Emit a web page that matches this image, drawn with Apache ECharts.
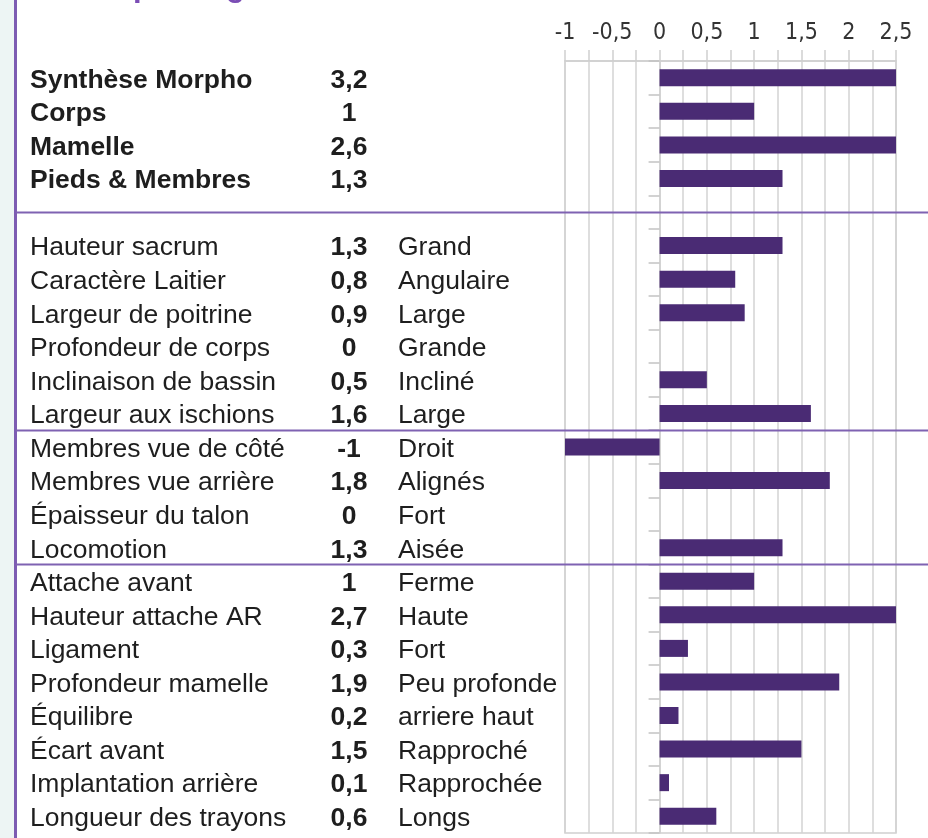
<!DOCTYPE html>
<html>
<head>
<meta charset="utf-8">
<script src="https://cdn.jsdelivr.net/npm/echarts@6/dist/echarts.min.js"></script>
<style>
  html, body { margin: 0; padding: 0; background: #fff; }
  #main { width: 928px; height: 838px; }
</style>
</head>
<body>
<div id="main"></div>
<script>
// libellés des caractères (ligne vide = séparation)
var noms = ['Synthèse Morpho', 'Corps', 'Mamelle', 'Pieds & Membres', '',
  'Hauteur sacrum', 'Caractère Laitier', 'Largeur de poitrine', 'Profondeur de corps',
  'Inclinaison de bassin', 'Largeur aux ischions',
  'Membres vue de côté', 'Membres vue arrière', 'Épaisseur du talon', 'Locomotion',
  'Attache avant', 'Hauteur attache AR', 'Ligament', 'Profondeur mamelle',
  'Équilibre', 'Écart avant', 'Implantation arrière', 'Longueur des trayons'];
var valeurs = [3.2, 1, 2.6, 1.3, null,
  1.3, 0.8, 0.9, 0, 0.5, 1.6,
  -1, 1.8, 0, 1.3,
  1, 2.7, 0.3, 1.9, 0.2, 1.5, 0.1, 0.6];
var qualites = ['', '', '', '', '',
  'Grand', 'Angulaire', 'Large', 'Grande', 'Incliné', 'Large',
  'Droit', 'Alignés', 'Fort', 'Aisée',
  'Ferme', 'Haute', 'Fort', 'Peu profonde', 'arriere haut', 'Rapproché', 'Rapprochée', 'Longs'];
var nbGras = 4;
// positions des traits de séparation (index de catégorie, .5 = entre deux)
var separations = [4, 10.5, 14.5];

var myChart = echarts.init(document.getElementById('main'));
var police = '"Liberation Sans", Arial, sans-serif';

function virgule(v) {
  return String(v).replace('.', ',');
}

var option = {
  animation: false,
  grid: {
    left: 565, right: 32, top: 61, bottom: 5,
    containLabel: false,
    outerBoundsMode: 'none',
    show: true, borderColor: '#cfcfcf', borderWidth: 1.5
  },
  xAxis: {
    type: 'value',
    position: 'top',
    min: -1, max: 2.5, interval: 0.25,
    axisLine: { show: true, lineStyle: { color: '#cfcfcf', width: 1.5 } },
    axisTick: { show: true, length: 11, lineStyle: { color: '#cfcfcf', width: 1.5 } },
    splitLine: { show: true, lineStyle: { color: '#d3d3d3', width: 1.5 } },
    axisLabel: {
      margin: 16,
      fontSize: 23,
      color: '#333',
      fontFamily: '"Liberation Sans Narrow", "Arial Narrow", "DejaVu Sans Condensed", sans-serif',
      formatter: function (v) {
        if (Math.abs(v * 2 - Math.round(v * 2)) > 1e-6) return '';
        return virgule(v);
      }
    }
  },
  yAxis: {
    type: 'category',
    inverse: true,
    data: noms,
    axisLine: { show: true, onZero: true, lineStyle: { color: '#cfcfcf', width: 1.5 } },
    axisTick: { show: true, length: 11, lineStyle: { color: '#c4c4c4', width: 1.5 } },
    splitLine: { show: false },
    axisLabel: {
      interval: 0,
      align: 'left',
      margin: 535,
      padding: [5, 0, 0, 0],
      formatter: function (nom, i) {
        if (!nom) return '';
        var st = i < nbGras ? 'nb' : 'n';
        return '{' + st + '|' + nom + '}{v|' + virgule(valeurs[i]) + '}{d|' + (qualites[i] || ' ') + '}';
      },
      rich: {
        n: { width: 300, align: 'left', fontSize: 26.5, color: '#1e1e1e', fontFamily: police },
        nb: { width: 300, align: 'left', fontSize: 26.5, fontWeight: 'bold', color: '#1e1e1e', fontFamily: police },
        v: { width: 38, align: 'center', fontSize: 26.5, fontWeight: 'bold', color: '#1e1e1e', fontFamily: police },
        d: { padding: [0, 0, 0, 30], fontSize: 26.5, color: '#1e1e1e', fontFamily: police }
      }
    }
  },
  series: [{
    type: 'bar',
    data: valeurs,
    barWidth: 17,
    clip: true,
    itemStyle: { color: '#4a2b74' }
  }]
};
myChart.setOption(option);

// cadre gauche, titre coupé et traits violets
var graphiques = [
  { type: 'rect', shape: { x: 0, y: 0, width: 15, height: 838 }, style: { fill: '#edf5f4' }, silent: true },
  { type: 'rect', shape: { x: 14, y: 0, width: 3, height: 838 }, style: { fill: '#7d5cb2' }, silent: true },
  { type: 'text', x: 133, y: 3, style: { text: 'pointage', font: 'bold 31px ' + police, fill: '#7b4db5', verticalAlign: 'bottom' }, silent: true }
];
separations.forEach(function (s) {
  var a = myChart.convertToPixel({ yAxisIndex: 0 }, Math.floor(s));
  var b = myChart.convertToPixel({ yAxisIndex: 0 }, Math.ceil(s));
  var y = Math.round((a + b) / 2) + 0.5;
  graphiques.push({
    type: 'line', shape: { x1: 16, y1: y, x2: 928, y2: y },
    style: { stroke: '#7f62b2', lineWidth: 2 }, z: 10, silent: true
  });
});
myChart.setOption({ graphic: graphiques });
</script>
</body>
</html>
